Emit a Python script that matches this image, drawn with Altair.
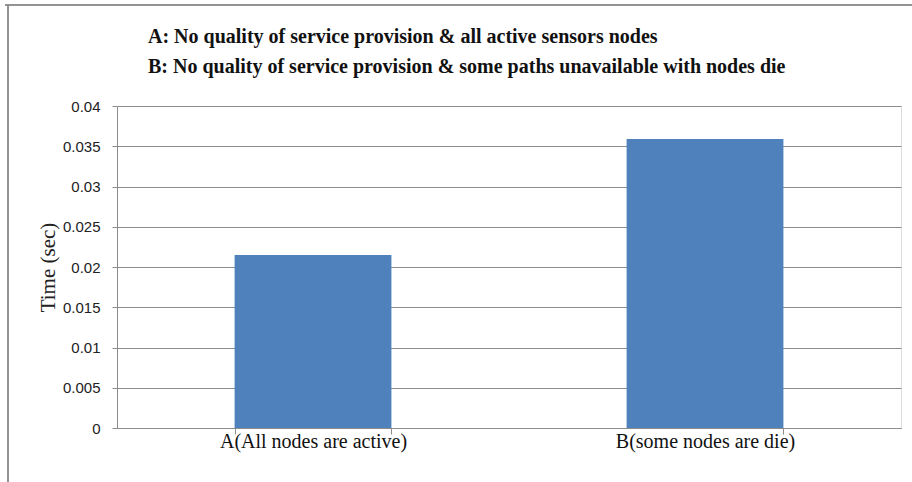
import altair as alt
import pandas as pd

categories = ["A(All nodes are active)", "B(some nodes are die)"]
times = [0.0215, 0.0359]
title_lines = [
    "A: No quality of service provision & all active sensors nodes",
    "B: No quality of service provision & some paths unavailable with nodes die",
]
y_ticks = [0, 0.005, 0.01, 0.015, 0.02, 0.025, 0.03, 0.035, 0.04]

df = pd.DataFrame({"cat": categories, "time": times})

bars = alt.Chart(df).mark_bar(color="#4f81bd").encode(
    x=alt.X(
        "cat:N",
        sort=categories,
        title=None,
        scale=alt.Scale(paddingInner=0.6, paddingOuter=0.3),
        axis=alt.Axis(
            labelAngle=0,
            labelFont="Liberation Serif",
            labelFontSize=20,
            labelColor="#111",
            labelPadding=-3,
            labelLimit=400,
            tickBand="extent",
            tickSize=6,
            tickColor="#8c8c8c",
            domainColor="#8c8c8c",
            grid=False,
        ),
    ),
    y=alt.Y(
        "time:Q",
        title="Time (sec)",
        scale=alt.Scale(domain=[0, 0.04], nice=False),
        axis=alt.Axis(
            values=y_ticks,
            format="~g",
            labelFont="Liberation Sans",
            labelFontSize=15,
            labelColor="#222",
            labelPadding=12,
            tickSize=5,
            tickColor="#8c8c8c",
            domainColor="#8c8c8c",
            gridColor="#8c8c8c",
            titleFont="Liberation Serif",
            titleFontSize=21,
            titleFontWeight="normal",
            titleColor="#222",
            titlePadding=4,
        ),
    ),
)

border_left = alt.Chart(df).mark_rule(color="#8c8c8c", strokeWidth=1.5, clip=False).encode(
    x=alt.value(-109), y=alt.value(-101), y2=alt.value(380)
)
border_top = alt.Chart(df).mark_rule(color="#8c8c8c", strokeWidth=1.5, clip=False).encode(
    x=alt.value(-112), x2=alt.value(800), y=alt.value(-101)
)

chart = (
    alt.layer(bars, border_left, border_top)
    .properties(
        width=784,
        height=322,
        autosize=alt.AutoSizeParams(type="none"),
        padding={"left": 117, "top": 106, "right": 11, "bottom": 54},
        title=alt.TitleParams(
            text=title_lines,
            anchor="start",
            frame="group",
            font="Liberation Serif",
            fontSize=20,
            fontWeight="bold",
            color="#111",
            lineHeight=30,
            baseline="alphabetic",
            dx=31,
            offset=0,
            dy=89,
        ),
    )
    .configure_view(stroke=None)
    .configure(background="white")
)

chart.save("out.html", embed_options={"renderer": "svg", "actions": False})
